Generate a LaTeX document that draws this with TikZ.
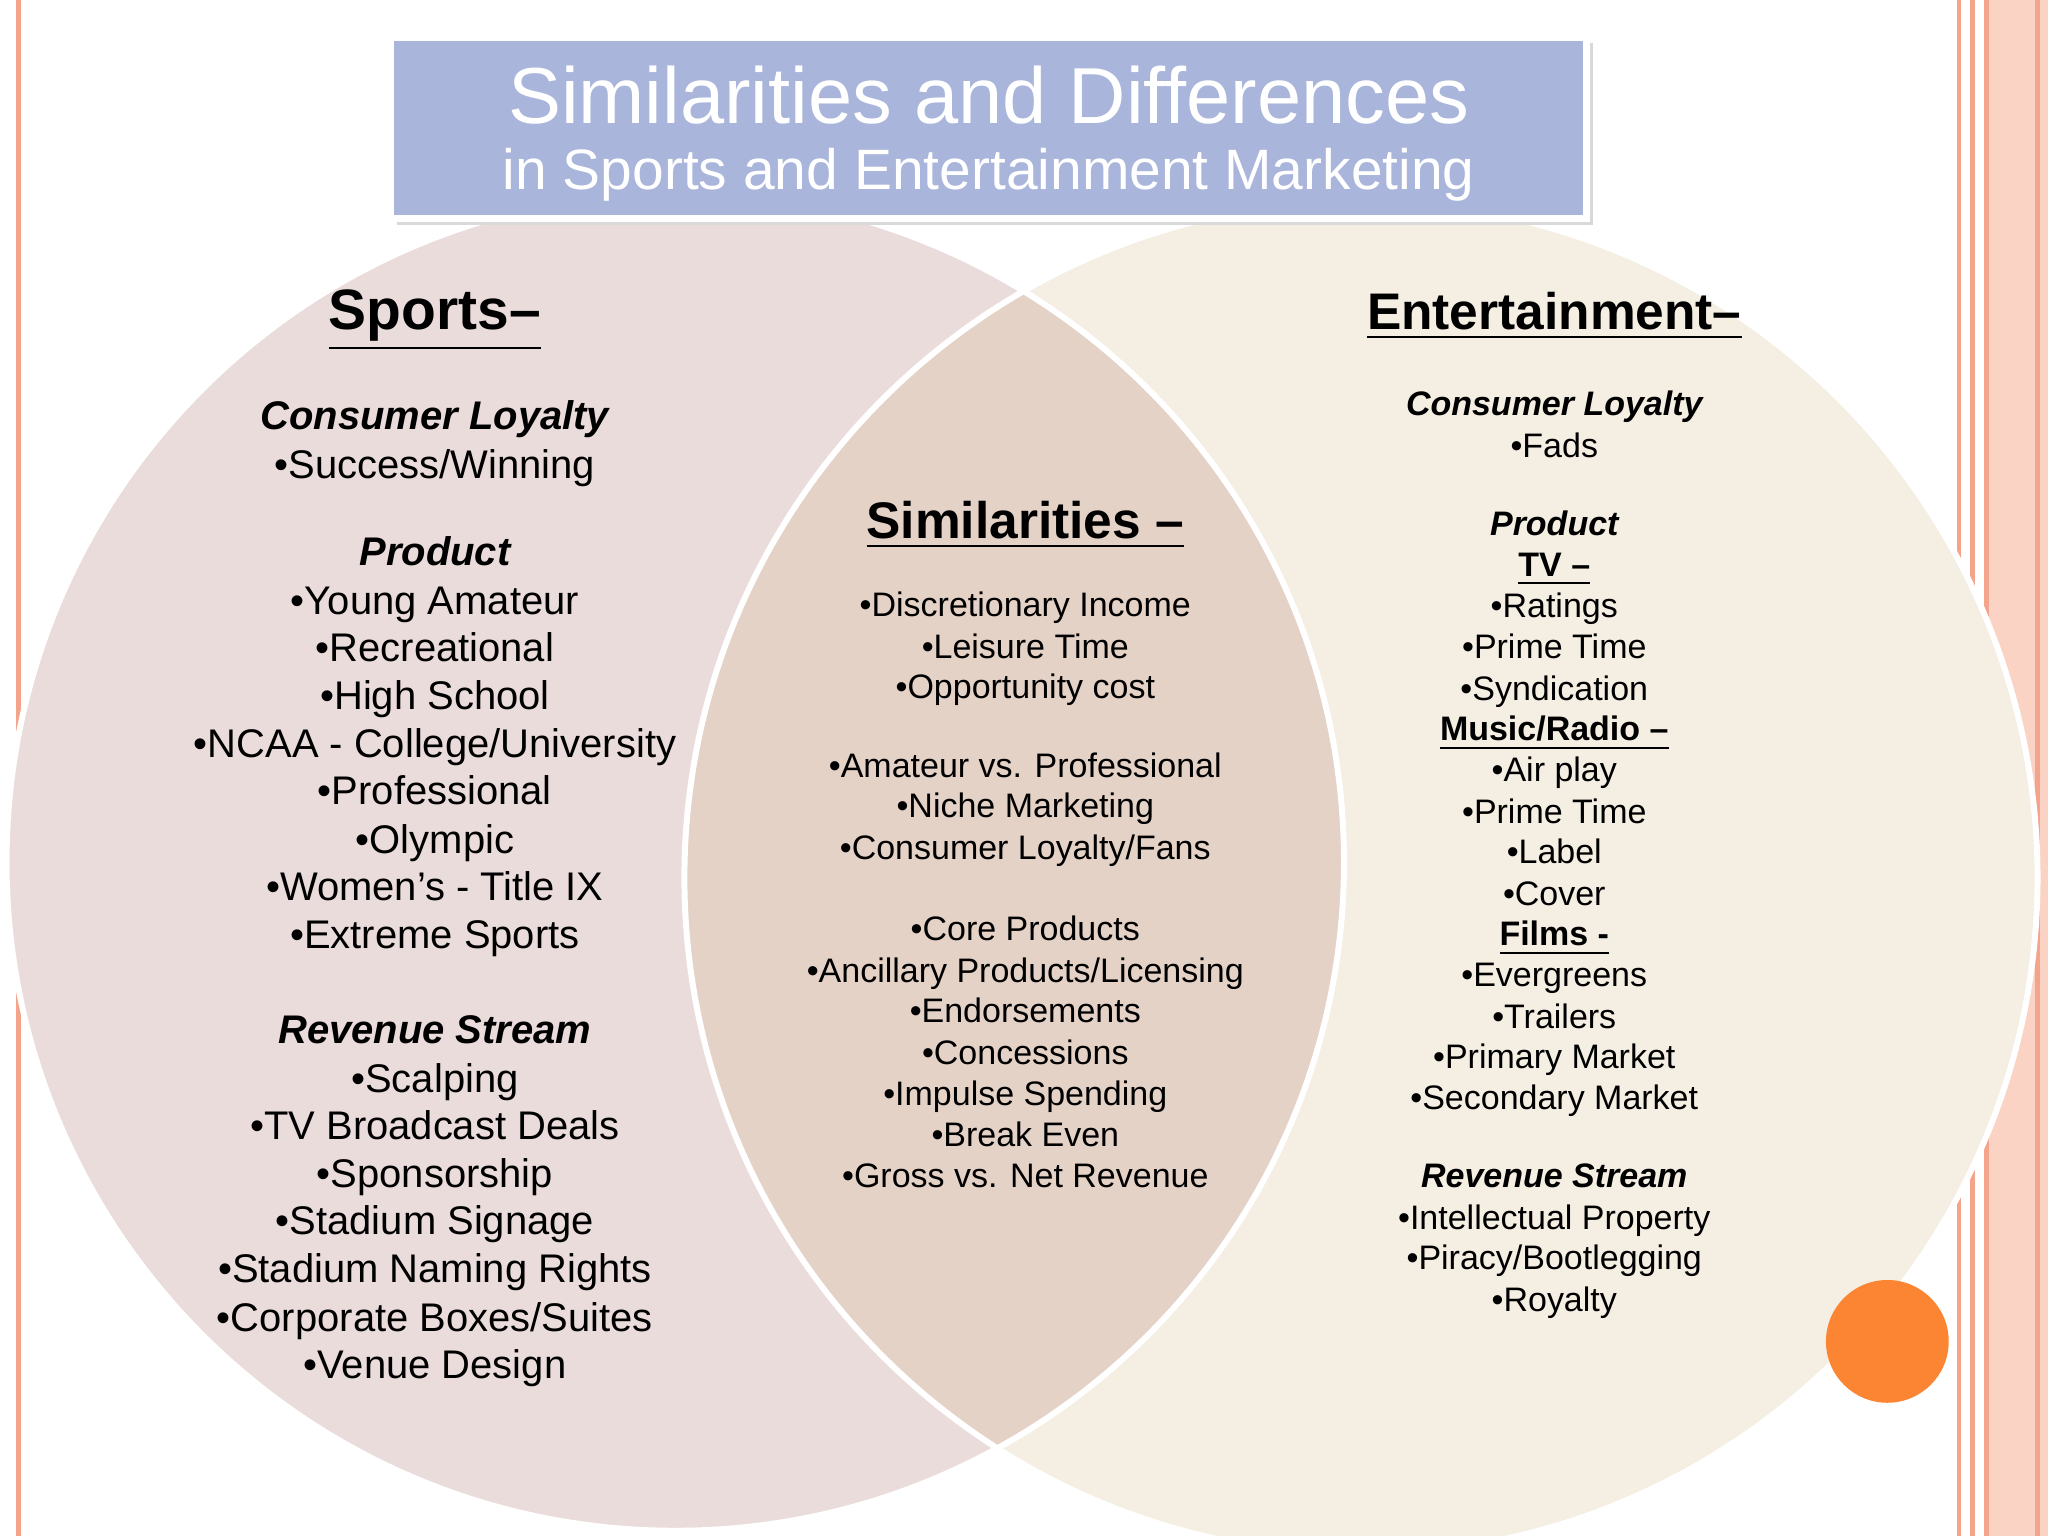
\documentclass[tikz,border=0pt]{standalone}
\usepackage{fontspec}
\setmainfont{Liberation Sans}
\begin{document}
\begin{tikzpicture}[x=0.01cm,y=-0.01cm,
  lt/.style={font=\fontsize{8.7}{10}\selectfont,inner sep=0pt,text height=0.72em,text depth=0.2em},
  mt/.style={font=\fontsize{7.4}{9}\selectfont,inner sep=0pt,text height=0.72em,text depth=0.2em},
  hd/.style={font=\fontsize{11.2}{13}\selectfont\bfseries,inner sep=0pt}]
\definecolor{lcirc}{HTML}{EBDCDC}
\definecolor{rcirc}{HTML}{F4EEE3}
\definecolor{mid}{HTML}{E5D2C7}
\definecolor{stripe}{HTML}{F4A48A}
\definecolor{band}{HTML}{FAD3C4}
\definecolor{titlebg}{HTML}{A9B5DA}
\definecolor{dot}{HTML}{FB8532}
\useasboundingbox (0,0) rectangle (1568,1176);
\fill[white] (0,0) rectangle (1568,1176);
% stripes
\draw[stripe,line width=1.2pt] (14,0) -- (14,1176);
\fill[band] (1520,0) rectangle (1568,1176);
\foreach \x in {1500,1510,1521,1560} \draw[stripe,line width=1pt] (\x,0) -- (\x,1176);
% circles
\fill[rcirc] (1042,672) circle (518);
\fill[lcirc] (517,660) circle (512);
\begin{scope}
\clip (517,660) circle (512);
\fill[mid] (1042,672) circle (518);
\end{scope}
\draw[white,line width=1.3pt] (517,660) circle (512);
\draw[white,line width=1.3pt] (1042,672) circle (518);
% orange dot
\fill[dot] (1445,1027) circle (47);
% title
\fill[black!15] (304,33) rectangle (1220,172);
\node[draw=white,line width=1.5pt,fill=titlebg,minimum width=9.15cm,minimum height=1.38cm,inner sep=0pt] (title) at (757,98) {};
\node[white,font=\fontsize{17.3}{20}\selectfont,inner sep=0pt] (t1) at (757,73) {Similarities and Differences};
\node[white,font=\fontsize{12.4}{14}\selectfont,inner sep=0pt] (t2) at (757,134) {in Sports and Entertainment Marketing};
% left
\node[hd,font=\fontsize{12.4}{14}\selectfont\bfseries] (sh) at (333,245) {\underline{Sports–}};
\foreach \y/\t [count=\i] in {
 320/{\bfseries\itshape Consumer Loyalty},357/{•Success/Winning},
 424/{\bfseries\itshape Product},461/•Young Amateur,497/•Recreational,534/•High School,
 571/{•NCAA - College/University},607/•Professional,644/•Olympic,680/•Women’s - Title IX,717/•Extreme Sports,
 790/{\bfseries\itshape Revenue Stream},827/•Scalping,863/•TV Broadcast Deals,900/•Sponsorship,
 936/•Stadium Signage,973/•Stadium Naming Rights,1010/{•Corporate Boxes/Suites},1046/•Venue Design}
 {\node[lt] (l\i) at (333,\y) {\t};}
% middle
\node[hd] (mh) at (785,402) {\underline{Similarities –}};
\foreach \y/\t [count=\i] in {
 463/•Discretionary Income,495/•Leisure Time,526/•Opportunity cost,
 586/•Amateur vs. Professional,617/•Niche Marketing,649/{•Consumer Loyalty/Fans},
 711/•Core Products,743/{•Ancillary Products/Licensing},774/•Endorsements,806/•Concessions,
 837/•Impulse Spending,869/•Break Even,900/•Gross vs. Net Revenue}
 {\node[mt] (m\i) at (785,\y) {\t};}
% right
\node[hd] (rh) at (1190,242) {\underline{Entertainment–}};
\foreach \y/\t [count=\i] in {
 309/{\bfseries\itshape Consumer Loyalty},341/•Fads,
 401/{\bfseries\itshape Product},432/{\bfseries\underline{TV –}},464/•Ratings,495/•Prime Time,527/•Syndication,
 558/{\bfseries\underline{Music/Radio –}},589/•Air play,621/•Prime Time,652/•Label,684/•Cover,
 715/{\bfseries\underline{Films -}},746/•Evergreens,778/•Trailers,809/•Primary Market,840/•Secondary Market,
 900/{\bfseries\itshape Revenue Stream},932/•Intellectual Property,963/{•Piracy/Bootlegging},995/•Royalty}
 {\node[mt] (r\i) at (1190,\y) {\t};}
\end{tikzpicture}
\end{document}
